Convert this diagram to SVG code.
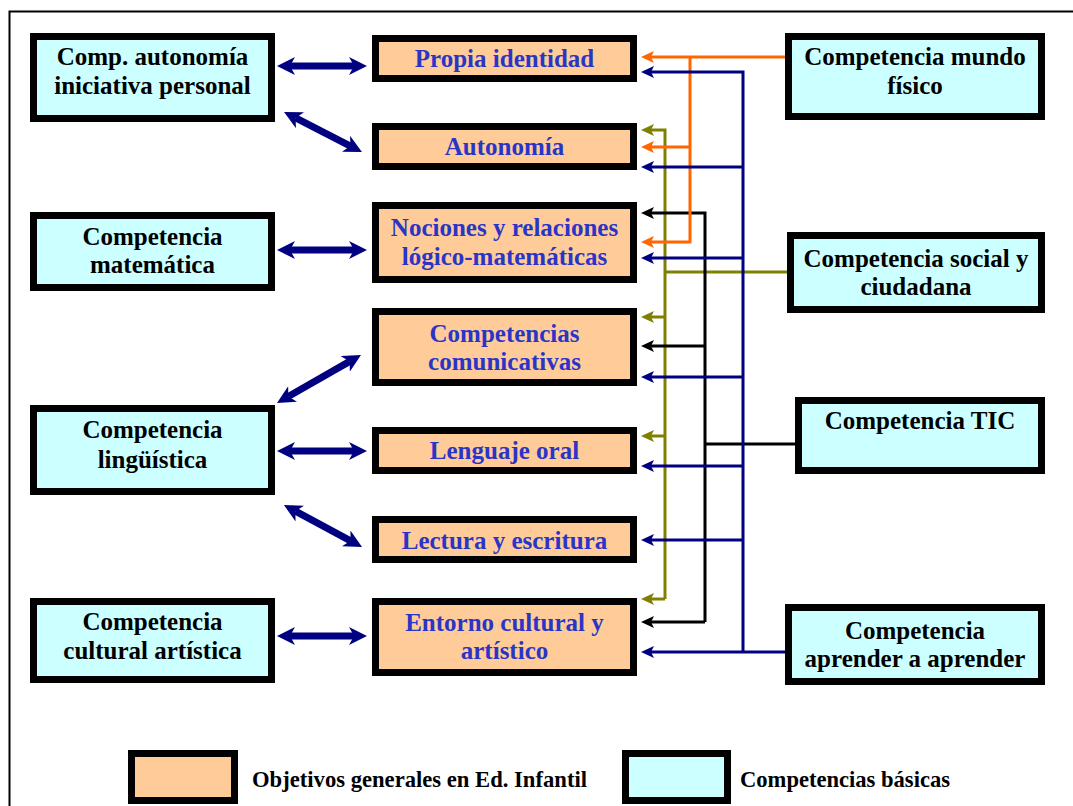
<svg xmlns="http://www.w3.org/2000/svg" width="1073" height="806" viewBox="0 0 1073 806">
<defs>
<style>
.bc{fill:#CCFFFF;stroke:#000;stroke-width:7}
.bo{fill:#FFCC99;stroke:#000;stroke-width:7}
.t{font-family:"Liberation Serif","Times New Roman",serif;font-weight:bold;font-size:25px;text-anchor:middle;fill:#000}
.tb{fill:#2A35C8}
.lg{font-family:"Liberation Serif","Times New Roman",serif;font-weight:bold;font-size:24px;fill:#000}
.thin{fill:none;stroke-width:3}
.big{fill:none;stroke:#000080;stroke-width:7;marker-start:url(#mBig);marker-end:url(#mBig)}
</style>
<marker id="mBig" viewBox="0 0 18 18" refX="5" refY="9" markerWidth="18" markerHeight="18" markerUnits="userSpaceOnUse" orient="auto-start-reverse"><path d="M0,0 L18,9 L0,18 L5,9 z" fill="#000080"/></marker>
<marker id="mN" viewBox="0 0 13 12" refX="3" refY="6" markerWidth="13" markerHeight="12" markerUnits="userSpaceOnUse" orient="auto"><path d="M0,0 L13,6 L0,12 L3,6 z" fill="#000080"/></marker>
<marker id="mO" viewBox="0 0 13 12" refX="3" refY="6" markerWidth="13" markerHeight="12" markerUnits="userSpaceOnUse" orient="auto"><path d="M0,0 L13,6 L0,12 L3,6 z" fill="#FF6600"/></marker>
<marker id="mV" viewBox="0 0 13 12" refX="3" refY="6" markerWidth="13" markerHeight="12" markerUnits="userSpaceOnUse" orient="auto"><path d="M0,0 L13,6 L0,12 L3,6 z" fill="#808000"/></marker>
<marker id="mK" viewBox="0 0 13 12" refX="3" refY="6" markerWidth="13" markerHeight="12" markerUnits="userSpaceOnUse" orient="auto"><path d="M0,0 L13,6 L0,12 L3,6 z" fill="#000"/></marker>
</defs>
<rect width="1073" height="806" fill="#fff"/>
<path d="M9.5,806 V11.5 H1073" fill="none" stroke="#000" stroke-width="2"/>

<g id="connectors">
<g stroke="#808000" class="thin">
<path d="M665,599 V130 H651" marker-end="url(#mV)"/>
<path d="M665,599 H651" marker-end="url(#mV)"/>
<path d="M665,317 H651" marker-end="url(#mV)"/>
<path d="M665,436 H651" marker-end="url(#mV)"/>
<path d="M787,272 H665"/>
</g>
<g stroke="#000" class="thin">
<path d="M705,622 V213 H651" marker-end="url(#mK)"/>
<path d="M705,622 H651" marker-end="url(#mK)"/>
<path d="M705,346 H651" marker-end="url(#mK)"/>
<path d="M795,444 H705"/>
</g>
<g stroke="#FF6600" class="thin">
<path d="M785,57 H651" marker-end="url(#mO)"/>
<path d="M690,57 V242 H651" marker-end="url(#mO)"/>
<path d="M690,147 H651" marker-end="url(#mO)"/>
</g>
<g stroke="#000080" class="thin">
<path d="M743,652 V72 H651" marker-end="url(#mN)"/>
<path d="M785,652 H651" marker-end="url(#mN)"/>
<path d="M743,167 H651" marker-end="url(#mN)"/>
<path d="M743,258 H651" marker-end="url(#mN)"/>
<path d="M743,377 H651" marker-end="url(#mN)"/>
<path d="M743,466 H651" marker-end="url(#mN)"/>
<path d="M743,540 H651" marker-end="url(#mN)"/>
</g>
<path class="big" d="M290,66 H354"/>
<path class="big" d="M295.6,117.9 L350.4,146.1"/>
<path class="big" d="M290,250 H354"/>
<path class="big" d="M288.3,396.5 L349.7,361.4"/>
<path class="big" d="M290,451 H354"/>
<path class="big" d="M295.4,511.2 L350.6,540.8"/>
<path class="big" d="M290,636 H354"/>
</g>

<g id="n-autonomia-personal"><rect class="bc" x="33.5" y="36.5" width="238" height="82"/><text class="t" x="152.5" y="65">Comp. autonomía</text><text class="t" x="152.5" y="94">iniciativa personal</text></g>
<g id="n-matematica"><rect class="bc" x="33.5" y="215.5" width="238" height="72"/><text class="t" x="152.5" y="245">Competencia</text><text class="t" x="152.5" y="273">matemática</text></g>
<g id="n-linguistica"><rect class="bc" x="33.5" y="408.5" width="238" height="83"/><text class="t" x="152.5" y="438">Competencia</text><text class="t" x="152.5" y="468">lingüística</text></g>
<g id="n-cultural"><rect class="bc" x="33.5" y="601.5" width="238" height="78"/><text class="t" x="152.5" y="630">Competencia</text><text class="t" x="152.5" y="659">cultural artística</text></g>

<g id="n-propia"><rect class="bo" x="375.5" y="38.5" width="258" height="40"/><text class="t tb" x="504.5" y="67">Propia identidad</text></g>
<g id="n-autonomia"><rect class="bo" x="375.5" y="126.5" width="258" height="40"/><text class="t tb" x="504.5" y="155">Autonomía</text></g>
<g id="n-nociones"><rect class="bo" x="375.5" y="205.5" width="258" height="74"/><text class="t tb" x="504.5" y="236">Nociones y relaciones</text><text class="t tb" x="504.5" y="265">lógico-matemáticas</text></g>
<g id="n-comunicativas"><rect class="bo" x="375.5" y="311.5" width="258" height="71"/><text class="t tb" x="504.5" y="342">Competencias</text><text class="t tb" x="504.5" y="370">comunicativas</text></g>
<g id="n-lenguaje"><rect class="bo" x="375.5" y="430.5" width="258" height="40"/><text class="t tb" x="504.5" y="459">Lenguaje oral</text></g>
<g id="n-lectura"><rect class="bo" x="375.5" y="519.5" width="258" height="40"/><text class="t tb" x="504.5" y="549">Lectura y escritura</text></g>
<g id="n-entorno"><rect class="bo" x="375.5" y="601.5" width="258" height="71"/><text class="t tb" x="504.5" y="631">Entorno cultural y</text><text class="t tb" x="504.5" y="659">artístico</text></g>

<g id="n-mundo"><rect class="bc" x="788.5" y="36.5" width="253" height="80"/><text class="t" x="915" y="65">Competencia mundo</text><text class="t" x="915" y="94">físico</text></g>
<g id="n-social"><rect class="bc" x="790.5" y="235.5" width="251" height="74"/><text class="t" x="916" y="267">Competencia social y</text><text class="t" x="916" y="295">ciudadana</text></g>
<g id="n-tic"><rect class="bc" x="798.5" y="400.5" width="243" height="70"/><text class="t" x="920" y="429">Competencia TIC</text></g>
<g id="n-aprender"><rect class="bc" x="788.5" y="607.5" width="253" height="74"/><text class="t" x="915" y="639">Competencia</text><text class="t" x="915" y="667">aprender a aprender</text></g>

<g id="legend">
<rect class="bo" x="131.5" y="753.5" width="103" height="47"/>
<text class="lg" x="252" y="787" textLength="335" lengthAdjust="spacingAndGlyphs">Objetivos generales en Ed. Infantil</text>
<rect class="bc" x="625.5" y="753.5" width="102" height="47"/>
<text class="lg" x="740" y="787" textLength="210" lengthAdjust="spacingAndGlyphs">Competencias básicas</text>
</g>
</svg>
